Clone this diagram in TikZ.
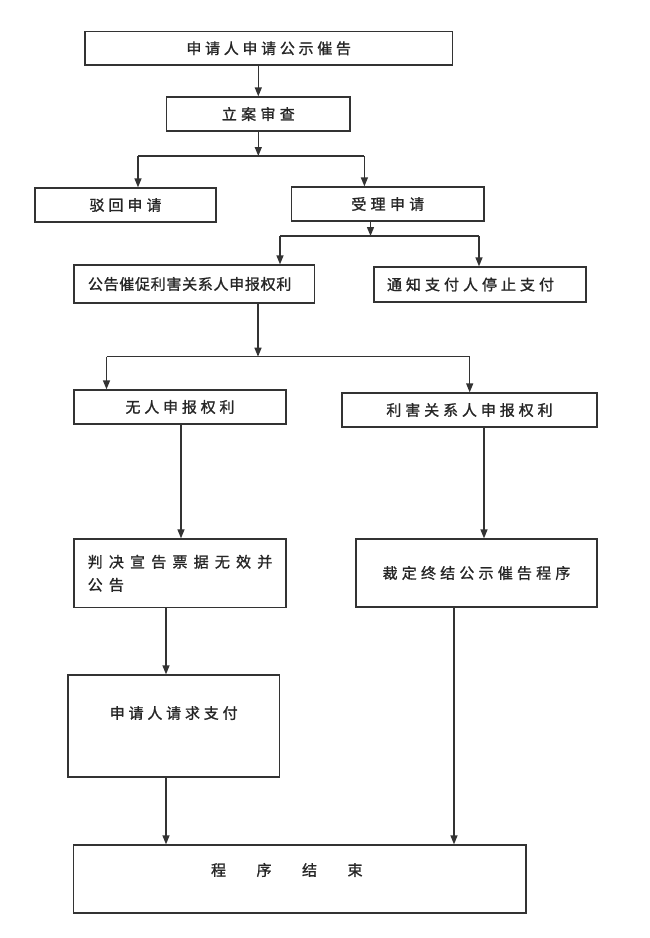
\documentclass[tikz,border=0pt]{standalone}
\usepackage{fontspec}
\newfontfamily\cjk[FakeBold=1.2]{Noto Sans CJK SC}
\usetikzlibrary{arrows.meta}
\makeatletter
\newcommand\spc[2]{\def\sp@k{#1}\@tfor\sp@c:=#2\do{\sp@c\kern\sp@k}\kern-\sp@k\relax}
\makeatother
\begin{document}
\begin{tikzpicture}[x=1pt,y=-1pt,
  box/.style={draw=black!80, line width=1.3pt, inner sep=0pt, text=black!85,
              font=\cjk\fontsize{15}{23}\selectfont},
  arr/.style={draw=black!80, line width=1.3pt, -{Triangle[length=9pt,width=7pt]}},
  ln/.style={draw=black!80, line width=1.3pt}]
\useasboundingbox[fill=white] (0,0) rectangle (650,938);

\node[box, minimum width=367.5pt, minimum height=33.3pt] (b1) at (268.7,48.3) {\spc{3.7pt}{申请人申请公示催告}};
\node[box, minimum width=183.4pt, minimum height=34pt] (b2) at (258.3,114) {\spc{4.3pt}{立案审查}};
\node[box, minimum width=181pt, minimum height=34pt] (b3) at (125.5,205) {\spc{4pt}{驳回申请}};
\node[box, minimum width=192.3pt, minimum height=34pt] (b4) at (387.8,204) {\spc{4.3pt}{受理申请}};
\node[box, minimum width=240.7pt, minimum height=38pt, inner xsep=14pt, text width=212.7pt, align=left] (b5) at (194.3,284) {\spc{0.7pt}{公告催促利害关系人申报权利}};
\node[box, minimum width=212pt, minimum height=35pt, inner xsep=13pt, text width=186pt, align=left] (b6) at (480,284.5) {\spc{4pt}{通知支付人停止支付}};
\node[box, minimum width=212pt, minimum height=34pt] (b7) at (180,407) {\spc{3.8pt}{无人申报权利}};
\node[box, minimum width=255pt, minimum height=34pt] (b8) at (469.5,410) {\spc{3.9pt}{利害关系人申报权利}};
\node[box, minimum width=212pt, minimum height=68.7pt, align=left] (b9) at (180,573.3) {\spc{6.2pt}{判决宣告票据无效并}\\\spc{6.2pt}{公告}};
\node[box, minimum width=241pt, minimum height=68pt] (b10) at (476.5,573) {\spc{4.2pt}{裁定终结公示催告程序}};
\node[box, minimum width=211.5pt, minimum height=102pt, text height=13pt, text depth=27.6pt] (b11) at (173.7,726) {\spc{3.8pt}{申请人请求支付}};
\node[box, minimum width=452.4pt, minimum height=68pt, text height=13pt, text depth=19.6pt] (b12) at (299.8,879) {\spc{30.5pt}{程序结束}\kern26pt};

% connectors
\draw[arr] (b1.south -| b2.north) -- (b2.north);

\coordinate (j1) at (258.3,156);
\coordinate (j1l) at (138,156);
\coordinate (j1r) at (364.4,156);
\draw[arr] (b2.south) -- (j1);
\draw[ln] (j1l) -- (j1r);
\draw[arr] (j1l) -- (j1l |- b3.north);
\draw[arr] (j1r) -- (j1r |- b4.north);

\coordinate (j2) at (370.5,236);
\coordinate (j2l) at (280,236);
\coordinate (j2r) at (479,236);
\draw[arr] (j2 |- b4.south) -- (j2);
\draw[ln] (j2l) -- (j2r);
\draw[arr] (j2l) -- (j2l |- b5.north);
\draw[arr] (j2r) -- (j2r |- b6.north);

\coordinate (j3) at (258,356.7);
\coordinate (j3l) at (106.5,356.7);
\coordinate (j3r) at (469.7,356.7);
\draw[arr] (j3 |- b5.south) -- (j3);
\draw[ln] (j3l) -- (j3r);
\draw[arr] (j3l) -- (j3l |- b7.north);
\draw[arr] (j3r) -- (j3r |- b8.north);

\coordinate (x79) at (181,480);
\coordinate (x810) at (484,480);
\coordinate (x911) at (166,640);
\coordinate (x1012) at (454,720);
\draw[arr] (x79 |- b7.south) -- (x79 |- b9.north);
\draw[arr] (x810 |- b8.south) -- (x810 |- b10.north);
\draw[arr] (x911 |- b9.south) -- (x911 |- b11.north);
\draw[arr] (x911 |- b11.south) -- (x911 |- b12.north);
\draw[arr] (x1012 |- b10.south) -- (x1012 |- b12.north);
\end{tikzpicture}
\end{document}
